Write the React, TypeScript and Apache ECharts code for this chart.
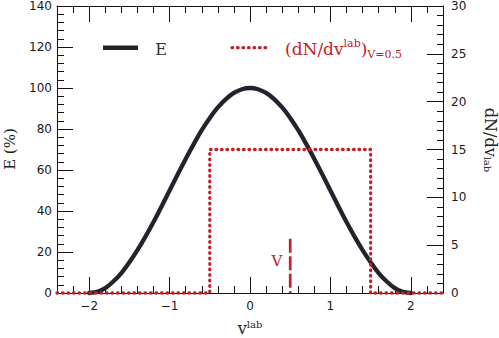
import React, { useEffect, useRef } from "react";
import * as echarts from "echarts";

// ---- data ----
const vCurve = [
  -2.0, -1.9, -1.8, -1.7, -1.6, -1.5, -1.4, -1.3, -1.2, -1.1,
  -1.0, -0.9, -0.8, -0.7, -0.6, -0.5, -0.4, -0.3, -0.2, -0.1,
  0.0,
  0.1, 0.2, 0.3, 0.4, 0.5, 0.6, 0.7, 0.8, 0.9, 1.0,
  1.1, 1.2, 1.3, 1.4, 1.5, 1.6, 1.7, 1.8, 1.9, 2.0,
];
const eCurve = [
  0, 0.6, 2.4, 5.6, 9.7, 15.0, 20.9, 27.5, 34.6, 42.2,
  50.0, 57.8, 65.4, 72.6, 79.4, 85.4, 90.5, 94.6, 97.6, 99.4,
  100,
  99.4, 97.6, 94.6, 90.5, 85.4, 79.4, 72.6, 65.4, 57.8, 50.0,
  42.2, 34.6, 27.5, 20.9, 15.0, 9.7, 5.6, 2.4, 0.6, 0,
];
const stepV = [-2.4, -0.5, -0.5, 1.5, 1.5, 2.4];
const stepDN = [0, 0, 15, 15, 0, 0];
const markerV = [0.5, 0.5];
const markerE = [26.5, 0];

const xMajor = [-2, -1, 0, 1, 2];
const xMinor = [
  -2.2, -1.8, -1.6, -1.4, -1.2, -0.8, -0.6, -0.4, -0.2,
  0.2, 0.4, 0.6, 0.8, 1.2, 1.4, 1.6, 1.8, 2.2,
];

const BLACK = "#23232d";
const RED = "#c4202b";
const AX = "#111";
const SERIF = '"DejaVu Serif", serif';
const SANS = '"DejaVu Sans", sans-serif';

export default function App() {
  const ref = useRef<HTMLDivElement>(null);
  useEffect(() => {
    if (!ref.current) return;
    const chart = echarts.init(ref.current, undefined, { renderer: "svg" });

    const baseX = {
      type: "value",
      min: -2.4,
      max: 2.4,
      gridIndex: 0,
      splitLine: { show: false },
      minorSplitLine: { show: false },
    };
    const tickLine = { color: AX, width: 1 };

    const option: any = {
      animation: false,
      backgroundColor: "#fff",
      grid: { left: 57, right: 56, top: 5, bottom: 45, containLabel: false },
      xAxis: [
        {
          ...baseX,
          position: "bottom",
          axisLine: { show: true, onZero: false, lineStyle: { color: AX, width: 1 } },
          axisTick: { show: true, inside: true, length: 16, customValues: xMajor, lineStyle: tickLine },
          axisLabel: {
            show: true,
            customValues: xMajor,
            margin: 7,
            color: "#1a1a1a",
            fontSize: 12,
            fontFamily: SANS,
            formatter: (v: number) => (v < 0 ? "\u2212" + Math.abs(v) : String(v)),
          },
        },
        {
          ...baseX,
          position: "bottom",
          axisLine: { show: false, onZero: false },
          axisTick: { show: true, inside: true, length: 7, customValues: xMinor, lineStyle: tickLine },
          axisLabel: { show: false },
        },
        {
          ...baseX,
          position: "top",
          axisLine: { show: true, onZero: false, lineStyle: { color: AX, width: 1 } },
          axisTick: { show: true, inside: true, length: 16, customValues: xMajor, lineStyle: tickLine },
          axisLabel: { show: false },
        },
        {
          ...baseX,
          position: "top",
          axisLine: { show: false, onZero: false },
          axisTick: { show: true, inside: true, length: 7, customValues: xMinor, lineStyle: tickLine },
          axisLabel: { show: false },
        },
      ],
      yAxis: [
        {
          type: "value",
          position: "left",
          min: 0,
          max: 140,
          interval: 20,
          axisLine: { show: true, onZero: false, lineStyle: { color: AX, width: 1 } },
          axisTick: { show: true, inside: true, length: 16, lineStyle: tickLine },
          minorTick: { show: true, splitNumber: 5, length: 7, lineStyle: tickLine },
          splitLine: { show: false },
          minorSplitLine: { show: false },
          axisLabel: { margin: 5, color: "#1a1a1a", fontSize: 12, fontFamily: SANS },
        },
        {
          type: "value",
          position: "right",
          min: 0,
          max: 30,
          interval: 5,
          axisLine: { show: true, onZero: false, lineStyle: { color: AX, width: 1 } },
          axisTick: { show: true, inside: true, length: 16, lineStyle: tickLine },
          minorTick: { show: true, splitNumber: 5, length: 6, lineStyle: tickLine },
          splitLine: { show: false },
          minorSplitLine: { show: false },
          axisLabel: { margin: 8, color: "#1a1a1a", fontSize: 12, fontFamily: SANS },
        },
      ],
      series: [
        {
          type: "line",
          xAxisIndex: 0,
          yAxisIndex: 0,
          data: vCurve.map((v, i) => [v, eCurve[i]]),
          showSymbol: false,
          smooth: 0.25,
          clip: false,
          z: 3,
          lineStyle: { color: BLACK, width: 4.3, cap: "round", join: "round" },
        },
        {
          type: "line",
          xAxisIndex: 0,
          yAxisIndex: 1,
          data: stepV.map((v, i) => [v, stepDN[i]]),
          showSymbol: false,
          clip: false,
          z: 4,
          lineStyle: { color: RED, width: 3.3, type: [0.6, 4.9], cap: "round" },
        },
        {
          type: "line",
          xAxisIndex: 0,
          yAxisIndex: 0,
          data: markerV.map((v, i) => [v, markerE[i]]),
          showSymbol: false,
          clip: false,
          z: 4,
          lineStyle: { color: RED, width: 2.7, type: [14, 3.5] },
        },
      ],
      graphic: [
        // legend
        { type: "line", shape: { x1: 103, y1: 47.7, x2: 138, y2: 47.7 }, style: { stroke: BLACK, lineWidth: 4.5 } },
        {
          type: "text", x: 161, y: 49,
          style: { text: "E", fontSize: 16, fontFamily: SERIF, fill: "#333", align: "center", verticalAlign: "middle" },
        },
        {
          type: "line", shape: { x1: 232, y1: 47.7, x2: 266, y2: 47.7 },
          style: { stroke: RED, lineWidth: 3.3, lineDash: [0.6, 4.9], lineCap: "round" },
        },
        {
          type: "text", x: 285, y: 49,
          style: {
            text: "{a|(dN/dv}{b|lab}{a|)}{c|V=0.5}",
            fill: RED, align: "left", verticalAlign: "middle",
            rich: {
              a: { fontSize: 17, fontFamily: SERIF, fill: RED, lineHeight: 22, verticalAlign: "middle" },
              b: { fontSize: 11, fontFamily: SERIF, fill: RED, lineHeight: 10, verticalAlign: "top" },
              c: { fontSize: 11, fontFamily: SERIF, fill: RED, lineHeight: 10, verticalAlign: "bottom" },
            },
          },
        },
        // V marker label
        {
          type: "text", x: 277, y: 261,
          style: { text: "V", fontSize: 15, fontFamily: SERIF, fill: RED, align: "center", verticalAlign: "middle" },
        },
        // axis titles
        {
          type: "text", x: 10, y: 149, rotation: Math.PI / 2,
          style: { text: "E (%)", fontSize: 15, fontFamily: SERIF, fill: "#222", align: "center", verticalAlign: "middle" },
        },
        {
          type: "text", x: 490.5, y: 140, rotation: -Math.PI / 2,
          style: {
            text: "{a|dN/dv}{b|lab}",
            fill: "#222", align: "center", verticalAlign: "middle",
            rich: {
              a: { fontSize: 16, fontFamily: SERIF, fill: "#222", lineHeight: 16, verticalAlign: "middle" },
              b: { fontSize: 10, fontFamily: SERIF, fill: "#222", lineHeight: 10, verticalAlign: "bottom" },
            },
          },
        },
        {
          type: "text", x: 250, y: 328,
          style: {
            text: "{a|v}{b|lab}",
            fill: "#222", align: "center", verticalAlign: "middle",
            rich: {
              a: { fontSize: 16, fontFamily: SERIF, fill: "#222", lineHeight: 17, verticalAlign: "middle" },
              b: { fontSize: 10, fontFamily: SERIF, fill: "#222", lineHeight: 10, verticalAlign: "top" },
            },
          },
        },
      ],
    };
    chart.setOption(option);
    return () => chart.dispose();
  }, []);
  return (
    <div
      ref={ref}
      style={{ position: "fixed", left: 0, top: 0, width: 499, height: 338, background: "#fff" }}
    />
  );
}
